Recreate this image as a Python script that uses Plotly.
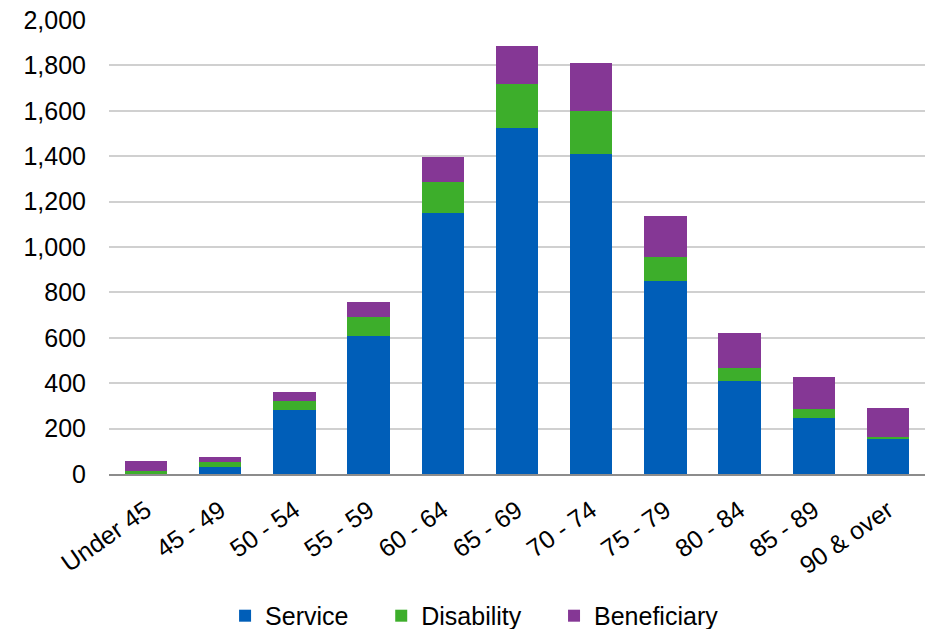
import plotly.graph_objects as go

categories = ["Under 45", "45 - 49", "50 - 54", "55 - 59", "60 - 64", "65 - 69",
              "70 - 74", "75 - 79", "80 - 84", "85 - 89", "90 & over"]
service = [0, 32, 283, 609, 1151, 1524, 1411, 852, 410, 248, 153]
disability = [13, 20, 40, 84, 135, 195, 188, 103, 56, 38, 10]
beneficiary = [44, 23, 38, 65, 112, 166, 210, 182, 157, 143, 128]

y_ticks = [0, 200, 400, 600, 800, 1000, 1200, 1400, 1600, 1800, 2000]

PAD = "\u00a0" * 4
fig = go.Figure()
for name, vals, col, pad in [("Service", service, "#005EB8", PAD),
                             ("Disability", disability, "#3DAE2B", PAD),
                             ("Beneficiary", beneficiary, "#853795", "")]:
    fig.add_trace(go.Bar(x=categories, y=vals, name=name + pad,
                         marker=dict(color=col, line=dict(width=0))))

fig.update_layout(
    barmode="stack",
    bargap=0.43,
    width=925, height=629,
    margin=dict(l=109, r=0, t=20, b=155, autoexpand=False),
    paper_bgcolor="white", plot_bgcolor="white",
    font=dict(family="Liberation Sans, Arial, sans-serif", size=25, color="black"),
    showlegend=True,
    legend=dict(orientation="h", x=0.448, xanchor="center", y=-0.262, yanchor="top",
                font=dict(size=25), traceorder="normal", itemwidth=30),
    xaxis=dict(range=[-0.5, 10.5], tickangle=-35, showgrid=False, automargin=False,
               showline=True, linecolor="#8c8c8c", linewidth=2,
               ticks="", tickfont=dict(size=25), ticklabelstandoff=10),
    yaxis=dict(range=[0, 2000], tickvals=y_ticks, tickformat=",", automargin=False,
               showgrid=True, gridcolor="#d0d0d0", gridwidth=2,
               zeroline=False, showline=False, ticks="",
               ticklabelstandoff=22, tickfont=dict(size=25)),
)

fig.write_html("out.html")
